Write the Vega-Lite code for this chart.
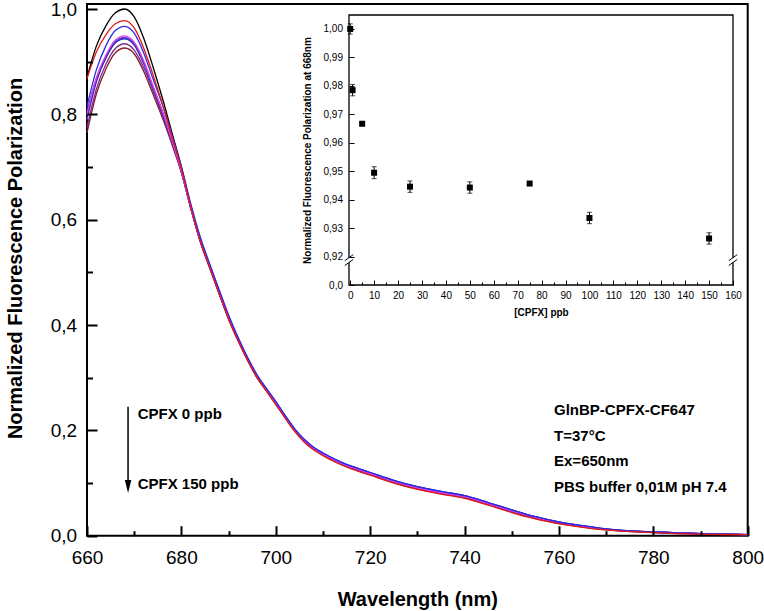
{
  "$schema": "https://vega.github.io/schema/vega-lite/v6.json",
  "autosize": {"type": "none"},
  "padding": {"left": 87, "top": 4, "right": 16.3, "bottom": 75.3},
  "width": 660.7,
  "height": 531.7,
  "background": "white",
  "config": {
    "view": {"stroke": "black", "strokeWidth": 2},
    "font": "Liberation Sans",
    "axis": {"labelFont": "Liberation Sans", "titleFont": "Liberation Sans", "labelColor": "black", "titleColor": "black", "tickColor": "black", "domainColor": "black", "grid": false, "ticks": true}
  },
  "datasets": {
    "spectra": [
      {"w": 660, "k0": 0.870, "k1": 0.868, "k5": 0.815, "k10": 0.800, "k25": 0.805, "k50": 0.795, "k75": 0.790, "k100": 0.775, "k150": 0.765},
      {"w": 662, "k0": 0.930, "k1": 0.919, "k5": 0.885, "k10": 0.869, "k25": 0.869, "k50": 0.864, "k75": 0.862, "k100": 0.848, "k150": 0.839},
      {"w": 664, "k0": 0.968, "k1": 0.951, "k5": 0.930, "k10": 0.912, "k25": 0.910, "k50": 0.907, "k75": 0.908, "k100": 0.895, "k150": 0.886},
      {"w": 666, "k0": 0.993, "k1": 0.972, "k5": 0.959, "k10": 0.941, "k25": 0.937, "k50": 0.936, "k75": 0.938, "k100": 0.925, "k150": 0.917},
      {"w": 668, "k0": 1.000, "k1": 0.978, "k5": 0.967, "k10": 0.949, "k25": 0.944, "k50": 0.944, "k75": 0.946, "k100": 0.934, "k150": 0.926},
      {"w": 670, "k0": 0.985, "k1": 0.964, "k5": 0.954, "k10": 0.937, "k25": 0.932, "k50": 0.932, "k75": 0.934, "k100": 0.922, "k150": 0.915},
      {"w": 672, "k0": 0.945, "k1": 0.926, "k5": 0.917, "k10": 0.902, "k25": 0.897, "k50": 0.897, "k75": 0.899, "k100": 0.889, "k150": 0.882},
      {"w": 674, "k0": 0.890, "k1": 0.875, "k5": 0.867, "k10": 0.854, "k25": 0.851, "k50": 0.851, "k75": 0.852, "k100": 0.844, "k150": 0.838},
      {"w": 676, "k0": 0.830, "k1": 0.819, "k5": 0.818, "k10": 0.805, "k25": 0.806, "k50": 0.802, "k75": 0.803, "k100": 0.797, "k150": 0.793},
      {"w": 678, "k0": 0.765, "k1": 0.758, "k5": 0.761, "k10": 0.750, "k25": 0.752, "k50": 0.748, "k75": 0.749, "k100": 0.745, "k150": 0.743},
      {"w": 680, "k0": 0.700, "k1": 0.697, "k5": 0.701, "k10": 0.692, "k25": 0.696, "k50": 0.692, "k75": 0.692, "k100": 0.690, "k150": 0.689},
      {"w": 682, "k0": 0.625, "k1": 0.624, "k5": 0.630, "k10": 0.622, "k25": 0.626, "k50": 0.622, "k75": 0.622, "k100": 0.622, "k150": 0.621},
      {"w": 684, "k0": 0.560, "k1": 0.560, "k5": 0.567, "k10": 0.560, "k25": 0.565, "k50": 0.560, "k75": 0.560, "k100": 0.559, "k150": 0.558},
      {"w": 686, "k0": 0.510, "k1": 0.509, "k5": 0.516, "k10": 0.512, "k25": 0.514, "k50": 0.511, "k75": 0.510, "k100": 0.509, "k150": 0.508},
      {"w": 688, "k0": 0.461, "k1": 0.460, "k5": 0.467, "k10": 0.462, "k25": 0.465, "k50": 0.462, "k75": 0.461, "k100": 0.460, "k150": 0.459},
      {"w": 690, "k0": 0.413, "k1": 0.412, "k5": 0.419, "k10": 0.415, "k25": 0.417, "k50": 0.414, "k75": 0.413, "k100": 0.412, "k150": 0.411},
      {"w": 692, "k0": 0.372, "k1": 0.371, "k5": 0.377, "k10": 0.374, "k25": 0.375, "k50": 0.373, "k75": 0.372, "k100": 0.371, "k150": 0.370},
      {"w": 694, "k0": 0.335, "k1": 0.334, "k5": 0.339, "k10": 0.337, "k25": 0.338, "k50": 0.336, "k75": 0.335, "k100": 0.334, "k150": 0.333},
      {"w": 696, "k0": 0.302, "k1": 0.301, "k5": 0.306, "k10": 0.304, "k25": 0.305, "k50": 0.303, "k75": 0.302, "k100": 0.301, "k150": 0.300},
      {"w": 698, "k0": 0.277, "k1": 0.275, "k5": 0.280, "k10": 0.278, "k25": 0.279, "k50": 0.278, "k75": 0.277, "k100": 0.276, "k150": 0.275},
      {"w": 700, "k0": 0.252, "k1": 0.249, "k5": 0.255, "k10": 0.253, "k25": 0.254, "k50": 0.254, "k75": 0.252, "k100": 0.251, "k150": 0.250},
      {"w": 702, "k0": 0.226, "k1": 0.223, "k5": 0.228, "k10": 0.226, "k25": 0.227, "k50": 0.228, "k75": 0.226, "k100": 0.225, "k150": 0.224},
      {"w": 704, "k0": 0.201, "k1": 0.198, "k5": 0.203, "k10": 0.201, "k25": 0.202, "k50": 0.203, "k75": 0.201, "k100": 0.200, "k150": 0.199},
      {"w": 706, "k0": 0.181, "k1": 0.178, "k5": 0.183, "k10": 0.181, "k25": 0.182, "k50": 0.183, "k75": 0.181, "k100": 0.180, "k150": 0.179},
      {"w": 708, "k0": 0.166, "k1": 0.163, "k5": 0.168, "k10": 0.166, "k25": 0.167, "k50": 0.168, "k75": 0.166, "k100": 0.165, "k150": 0.164},
      {"w": 710, "k0": 0.155, "k1": 0.152, "k5": 0.157, "k10": 0.155, "k25": 0.156, "k50": 0.157, "k75": 0.155, "k100": 0.154, "k150": 0.153},
      {"w": 713, "k0": 0.141, "k1": 0.138, "k5": 0.143, "k10": 0.141, "k25": 0.142, "k50": 0.143, "k75": 0.141, "k100": 0.140, "k150": 0.139},
      {"w": 716, "k0": 0.130, "k1": 0.127, "k5": 0.132, "k10": 0.130, "k25": 0.131, "k50": 0.132, "k75": 0.130, "k100": 0.129, "k150": 0.128},
      {"w": 720, "k0": 0.118, "k1": 0.115, "k5": 0.120, "k10": 0.118, "k25": 0.119, "k50": 0.120, "k75": 0.118, "k100": 0.117, "k150": 0.116},
      {"w": 725, "k0": 0.103, "k1": 0.100, "k5": 0.105, "k10": 0.103, "k25": 0.104, "k50": 0.105, "k75": 0.103, "k100": 0.102, "k150": 0.101},
      {"w": 730, "k0": 0.091, "k1": 0.088, "k5": 0.093, "k10": 0.091, "k25": 0.092, "k50": 0.093, "k75": 0.091, "k100": 0.090, "k150": 0.089},
      {"w": 735, "k0": 0.082, "k1": 0.079, "k5": 0.084, "k10": 0.082, "k25": 0.083, "k50": 0.084, "k75": 0.082, "k100": 0.081, "k150": 0.080},
      {"w": 740, "k0": 0.074, "k1": 0.071, "k5": 0.076, "k10": 0.074, "k25": 0.075, "k50": 0.076, "k75": 0.074, "k100": 0.073, "k150": 0.072},
      {"w": 745, "k0": 0.061, "k1": 0.058, "k5": 0.063, "k10": 0.061, "k25": 0.062, "k50": 0.063, "k75": 0.061, "k100": 0.060, "k150": 0.059},
      {"w": 750, "k0": 0.047, "k1": 0.044, "k5": 0.049, "k10": 0.047, "k25": 0.048, "k50": 0.049, "k75": 0.047, "k100": 0.046, "k150": 0.045},
      {"w": 755, "k0": 0.035, "k1": 0.032, "k5": 0.036, "k10": 0.035, "k25": 0.036, "k50": 0.036, "k75": 0.035, "k100": 0.034, "k150": 0.033},
      {"w": 760, "k0": 0.025, "k1": 0.023, "k5": 0.026, "k10": 0.025, "k25": 0.025, "k50": 0.026, "k75": 0.025, "k100": 0.024, "k150": 0.023},
      {"w": 765, "k0": 0.018, "k1": 0.016, "k5": 0.019, "k10": 0.018, "k25": 0.018, "k50": 0.019, "k75": 0.018, "k100": 0.017, "k150": 0.017},
      {"w": 770, "k0": 0.012, "k1": 0.011, "k5": 0.013, "k10": 0.012, "k25": 0.012, "k50": 0.013, "k75": 0.012, "k100": 0.012, "k150": 0.011},
      {"w": 780, "k0": 0.007, "k1": 0.006, "k5": 0.007, "k10": 0.007, "k25": 0.007, "k50": 0.007, "k75": 0.007, "k100": 0.007, "k150": 0.006},
      {"w": 790, "k0": 0.004, "k1": 0.003, "k5": 0.004, "k10": 0.004, "k25": 0.004, "k50": 0.004, "k75": 0.004, "k100": 0.004, "k150": 0.003},
      {"w": 800, "k0": 0.002, "k1": 0.002, "k5": 0.002, "k10": 0.002, "k25": 0.002, "k50": 0.002, "k75": 0.002, "k100": 0.002, "k150": 0.002}
    ],
    "inset": [
      {"c": 0, "v": 1.0, "e": 0.0018},
      {"c": 1, "v": 0.9785, "e": 0.002},
      {"c": 5, "v": 0.9667, "e": 0.0005},
      {"c": 10, "v": 0.9495, "e": 0.0021},
      {"c": 25, "v": 0.9446, "e": 0.002},
      {"c": 50, "v": 0.9443, "e": 0.002},
      {"c": 75, "v": 0.9457, "e": 0.0005},
      {"c": 100, "v": 0.9336, "e": 0.002},
      {"c": 150, "v": 0.9264, "e": 0.002}
    ],
    "brk": [{"bx": -0.5}, {"bx": 160}],
    "arrow": [{"ax": 668.7, "top": 0.245, "bot": 0.1, "tip": 0.0935}],
    "notes": [
      {"t": "CPFX 0 ppb", "x": 670.74, "y": 0.232},
      {"t": "CPFX 150 ppb", "x": 670.74, "y": 0.098},
      {"t": "GlnBP-CPFX-CF647", "x": 758.96, "y": 0.2387},
      {"t": "T=37°C", "x": 758.96, "y": 0.190},
      {"t": "Ex=650nm", "x": 758.96, "y": 0.1418},
      {"t": "PBS buffer 0,01M pH 7.4", "x": 758.96, "y": 0.093}
    ]
  },
  "layer": [
    {
      "layer": [
        {
          "data": {"name": "spectra"},
          "transform": [{"fold": ["k0", "k150", "k100", "k75", "k50", "k25", "k10", "k5", "k1"], "as": ["c", "p"]}],
          "mark": {"type": "line", "interpolate": "monotone", "strokeWidth": 1.3},
          "encoding": {
            "x": {"field": "w", "type": "quantitative", "title": "Wavelength (nm)",
              "scale": {"domain": [660, 800], "nice": false, "zero": false},
              "axis": {"values": [660, 680, 700, 720, 740, 760, 780, 800],
                "tickSize": -10,
                "tickWidth": 2, "domain": false, "zindex": 1, "labelFontSize": 19, "labelPadding": 22.6,
                "labelFlush": false, "labelOverlap": false, "labelBound": false,
                "titleFontSize": 20, "titleFontWeight": "bold", "titleY": 69.3, "titleBaseline": "alphabetic"}},
            "y": {"field": "p", "type": "quantitative", "title": "Normalized Fluorescence Polarization",
              "scale": {"domain": [0, 1.0095], "nice": false, "zero": false},
              "axis": {"values": [0, 0.2, 0.4, 0.6, 0.8, 1.0],
                "labelExpr": "replace(format(datum.value, '.1f'), '.', ',')",
                "tickSize": -10,
                "tickWidth": 2, "domain": false, "zindex": 1, "labelFontSize": 19, "labelPadding": 20.3,
                "labelFlush": false, "labelOverlap": false, "labelBound": false,
                "titleFontSize": 20, "titleFontWeight": "bold", "titleX": -66, "titleY": 254,
                "titleAngle": 270, "titleBaseline": "alphabetic", "titleAlign": "center"}},
            "color": {"field": "c", "type": "nominal", "legend": null,
              "scale": {"domain": ["k0", "k1", "k5", "k10", "k25", "k50", "k75", "k100", "k150"],
                "range": ["#000000", "#e01818", "#2a2ae6", "#e040e8", "#3a3ad0", "#1a1a8c", "#7a3ad8", "#7a2a8a", "#8a1a2a"]}}
          }
        },
        {
          "data": {"name": "arrow"},
          "mark": {"type": "rule", "strokeWidth": 1.5, "color": "black"},
          "encoding": {
            "x": {"field": "ax", "type": "quantitative", "title": "Wavelength (nm)"},
            "y": {"field": "top", "type": "quantitative", "title": "Normalized Fluorescence Polarization"},
            "y2": {"field": "bot"}
          }
        },
        {
          "data": {"name": "arrow"},
          "mark": {"type": "point", "shape": "M-0.5,-1L0.5,-1L0,1Z", "filled": true, "color": "black", "size": 169, "opacity": 1},
          "encoding": {
            "x": {"field": "ax", "type": "quantitative", "title": "Wavelength (nm)"},
            "y": {"field": "tip", "type": "quantitative", "title": "Normalized Fluorescence Polarization"}
          }
        },
        {
          "data": {"name": "notes"},
          "mark": {"type": "text", "align": "left", "baseline": "middle", "fontSize": 15, "fontWeight": "bold", "font": "Liberation Sans", "color": "black"},
          "encoding": {
            "x": {"field": "x", "type": "quantitative", "title": "Wavelength (nm)"},
            "y": {"field": "y", "type": "quantitative", "title": "Normalized Fluorescence Polarization"},
            "text": {"field": "t"}
          }
        }
      ]
    },
    {
      "data": {"name": "arrow"},
      "mark": {"type": "point", "opacity": 0},
      "encoding": {
        "x": {"field": "ax", "type": "quantitative",
          "scale": {"domain": [660, 800], "nice": false, "zero": false},
          "axis": {"orient": "bottom", "values": [670, 690, 710, 730, 750, 770, 790], "tickSize": -5, "tickWidth": 2,
            "labels": false, "domain": false, "title": null, "zindex": 1}},
        "y": {"field": "tip", "type": "quantitative",
          "scale": {"domain": [0, 1.0095], "nice": false, "zero": false},
          "axis": {"orient": "left", "values": [0.1, 0.3, 0.5, 0.7, 0.9], "tickSize": -5.5, "tickWidth": 2,
            "labels": false, "domain": false, "title": null, "zindex": 1}}
      }
    },
    {
      "layer": [
        {
          "data": {"values": [{}]},
          "mark": {"type": "rect", "fillOpacity": 0, "stroke": "black", "strokeWidth": 1.3},
          "encoding": {
            "x": {"datum": -0.5, "type": "quantitative", "title": "[CPFX] ppb",
              "scale": {"domain": [-0.5, 160], "range": [262, 646], "nice": false, "zero": false},
              "axis": {"orient": "bottom", "offset": -250.7, "zindex": 1,
                "values": [0, 10, 20, 30, 40, 50, 60, 70, 80, 90, 100, 110, 120, 130, 140, 150, 160],
                "tickSize": -5,
                "tickWidth": 1, "domain": false, "labelFontSize": 10, "labelPadding": 10.6,
                "labelFlush": false, "labelOverlap": false, "labelBound": false,
                "titleFontSize": 10, "titleFontWeight": "bold", "titleY": 30, "titleBaseline": "alphabetic"}},
            "x2": {"datum": 160},
            "y": {"datum": 0, "type": "quantitative", "title": "Normalized Fluorescence Polarization at 668nm",
              "scale": {"domain": [0, 0.92, 1.0049], "range": [281, 252.7, 11], "nice": false, "zero": false},
              "axis": {"orient": "left", "offset": -262, "zindex": 1,
                "values": [0, 0.92, 0.93, 0.94, 0.95, 0.96, 0.97, 0.98, 0.99, 1.0],
                "labelExpr": "datum.value == 0 ? '0,0' : replace(format(datum.value, '.2f'), '.', ',')",
                "tickSize": -5, "tickWidth": 1, "domain": false, "labelFontSize": 10, "labelPadding": 11.5,
                "labelFlush": false, "labelOverlap": false, "labelBound": false,
                "titleFontSize": 10, "titleFontWeight": "bold", "titleX": -39, "titleY": 146,
                "titleAngle": 270, "titleBaseline": "alphabetic", "titleAlign": "center"}},
            "y2": {"datum": 1.0049}
          }
        },
        {
          "data": {"name": "inset"},
          "mark": {"type": "errorbar", "ticks": {"size": 5, "thickness": 1, "color": "black"}, "rule": {"strokeWidth": 1, "color": "black"}, "color": "black"},
          "encoding": {
            "x": {"field": "c", "type": "quantitative", "title": "[CPFX] ppb",
              "scale": {"domain": [-0.5, 160], "range": [262, 646], "nice": false, "zero": false}},
            "y": {"field": "v", "type": "quantitative", "title": "Normalized Fluorescence Polarization at 668nm",
              "scale": {"domain": [0, 0.92, 1.0049], "range": [281, 252.7, 11], "nice": false, "zero": false}},
            "yError": {"field": "e"}
          }
        },
        {
          "data": {"name": "inset"},
          "mark": {"type": "square", "filled": true, "color": "black", "size": 36, "opacity": 1},
          "encoding": {
            "x": {"field": "c", "type": "quantitative", "title": "[CPFX] ppb",
              "scale": {"domain": [-0.5, 160], "range": [262, 646], "nice": false, "zero": false}},
            "y": {"field": "v", "type": "quantitative", "title": "Normalized Fluorescence Polarization at 668nm",
              "scale": {"domain": [0, 0.92, 1.0049], "range": [281, 252.7, 11], "nice": false, "zero": false}}
          }
        },
        {
          "data": {"name": "brk"},
          "mark": {"type": "point", "shape": "M-0.7,0.1L0.7,-0.9L0.7,-0.1L-0.7,0.9Z", "filled": true, "color": "white", "size": 144, "opacity": 1, "strokeWidth": 0},
          "encoding": {
            "x": {"field": "bx", "type": "quantitative", "title": "[CPFX] ppb",
              "scale": {"domain": [-0.5, 160], "range": [262, 646], "nice": false, "zero": false}},
            "y": {"datum": 0.81, "type": "quantitative", "title": "Normalized Fluorescence Polarization at 668nm",
              "scale": {"domain": [0, 0.92, 1.0049], "range": [281, 252.7, 11], "nice": false, "zero": false}}
          }
        },
        {
          "data": {"name": "brk"},
          "mark": {"type": "point", "shape": "M-0.7,0.1L0.7,-0.9M-0.7,0.9L0.7,-0.1", "filled": false, "color": "black", "size": 144, "opacity": 1, "strokeWidth": 1},
          "encoding": {
            "x": {"field": "bx", "type": "quantitative", "title": "[CPFX] ppb",
              "scale": {"domain": [-0.5, 160], "range": [262, 646], "nice": false, "zero": false}},
            "y": {"datum": 0.81, "type": "quantitative", "title": "Normalized Fluorescence Polarization at 668nm",
              "scale": {"domain": [0, 0.92, 1.0049], "range": [281, 252.7, 11], "nice": false, "zero": false}}
          }
        }
      ]
    },
    {
      "data": {"name": "brk"},
      "mark": {"type": "point", "opacity": 0},
      "encoding": {
        "x": {"field": "bx", "type": "quantitative",
          "scale": {"domain": [-0.5, 160], "range": [262, 646], "nice": false, "zero": false},
          "axis": {"orient": "bottom", "offset": -250.7, "zindex": 1,
            "values": [5, 15, 25, 35, 45, 55, 65, 75, 85, 95, 105, 115, 125, 135, 145, 155],
            "tickSize": -3, "tickWidth": 1, "labels": false, "domain": false, "title": null}},
        "y": {"datum": 0.81, "type": "quantitative",
          "scale": {"domain": [0, 0.92, 1.0049], "range": [281, 252.7, 11], "nice": false, "zero": false},
          "axis": null}
      }
    }
  ],
  "resolve": {"scale": {"x": "independent", "y": "independent", "color": "independent"}, "axis": {"x": "independent", "y": "independent"}}
}
